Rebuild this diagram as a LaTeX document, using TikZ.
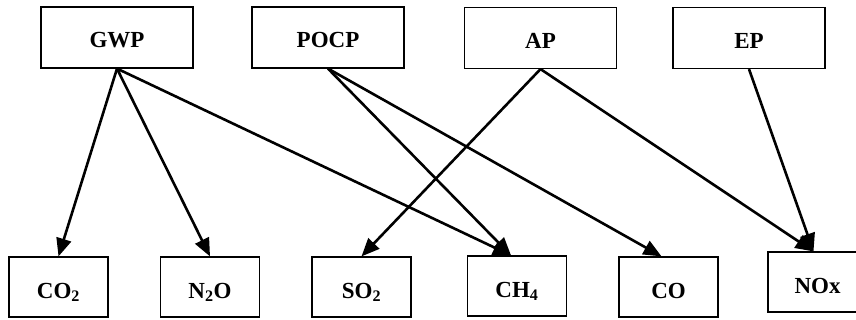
\documentclass[tikz,border=0pt]{standalone}
\usepackage{fontspec}
\setmainfont{Liberation Serif}
\usetikzlibrary{arrows.meta}
\tikzset{
  impact/.style={
    draw,
    shape = rectangle,
    line width = 1.2pt,
    inner sep = 0pt,
    minimum width = 152pt,
    minimum height = 61pt,
    text height = 21pt,
    text depth = 0pt,
    font = \fontsize{23}{26}\selectfont\bfseries
  },
  gas/.style={
    impact,
    minimum width = 99pt,
    minimum height = 60pt,
    text height = 22pt
  },
  link/.style={
    line width = 2.6pt,
    -{Triangle[length=18pt,width=15pt]}
  }
}
\newcommand{\sub}[1]{\textsubscript{#1}}

\begin{document}
\begin{tikzpicture}[x=1pt,y=-1pt]
    \useasboundingbox (0,0) rectangle (856,320);

    % impact categories
    \node[impact] (gwp) at (117,37.5) {GWP};
    \node[impact] (pocp) at (328,37.5) {POCP};
    \node[impact] (ap) at (540.5,38) {AP};
    \node[impact] (ep) at (749,38) {EP};

    % gases
    \node[gas] (co2) at (58.5,287) {CO\sub{2}};
    \node[gas] (n2o) at (210,287) {N\sub{2}O};
    \node[gas] (so2) at (361.5,287) {SO\sub{2}};
    \node[gas] (ch4) at (517,286) {CH\sub{4}};
    \node[gas] (co) at (668.5,287) {CO};
    \node[gas] (nox) at (817.5,282) {NOx};

    \coordinate (ch4in) at ([xshift=-6pt]ch4.north);
    \coordinate (coin) at ([xshift=-7pt]co.north);
    \coordinate (noxin) at ([xshift=-4pt]nox.north);

    \draw[link] (gwp.south) -- (co2.north);
    \draw[link] (gwp.south) -- (n2o.north);
    \draw[link] (gwp.south) -- (ch4in);
    \draw[link] (pocp.south) -- (ch4in);
    \draw[link] (pocp.south) -- (coin);
    \draw[link] (ap.south) -- (so2.north);
    \draw[link] (ap.south) -- (noxin);
    \draw[link] (ep.south) -- (noxin);
\end{tikzpicture}
\end{document}
